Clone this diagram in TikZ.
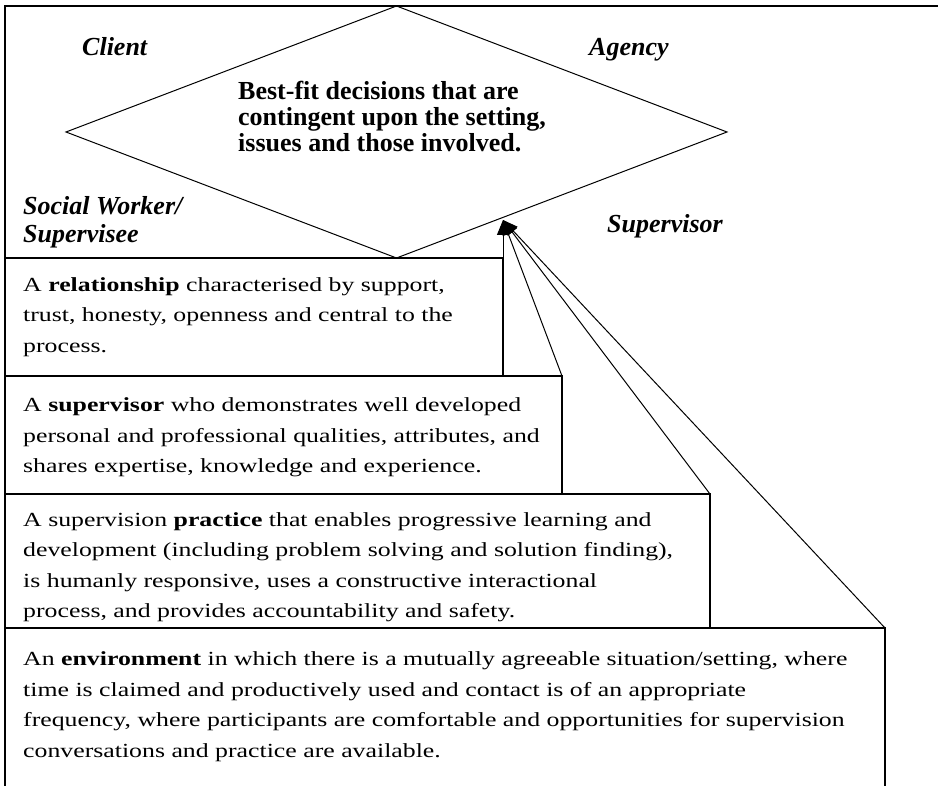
\documentclass[tikz,border=0pt]{standalone}
\usepackage{fontspec}
\setmainfont{Liberation Serif}
\newfontfamily\bodyfont{Liberation Serif}[FakeStretch=1.29]
\usetikzlibrary{shapes.geometric,arrows.meta,calc}

\begin{document}
\begin{tikzpicture}[x=1pt,y=-1pt,
  frame/.style={line width=1.6pt},
  stagebox/.style={draw, rectangle, line width=1.4pt, anchor=north west,
    inner sep=0pt, outer sep=0pt},
  bodytext/.style={anchor=north west, inner sep=0pt, align=left,
    font=\bodyfont\fontsize{20}{30.5}\selectfont},
  centretext/.style={anchor=north west, inner sep=0pt, align=left,
    font=\bfseries\fontsize{26}{26}\selectfont},
  party/.style={inner sep=0pt, align=left,
    font=\bfseries\itshape\fontsize{26}{28}\selectfont},
  link/.style={line width=1pt, -{Triangle[length=15pt,width=12pt]}},
]
% page and clipping area
\clip (0,0) rectangle (938,786);
\fill[white] (0,0) rectangle (938,786);

% outer frame of the upper region
\draw[frame] (938,6) -- (5,6) -- (5,258);

% decision diamond
\node[draw, diamond, line width=1pt, inner sep=0pt, outer sep=0pt,
      minimum width=661pt, minimum height=252pt] (dec) at (396.5,132) {};
\node[centretext] (dectext) at (238,80.8)
  {\strut Best-fit decisions that are\\
   contingent upon the setting,\\
   issues and those involved.};

% parties around the diamond
\node[party, anchor=base west] (client) at (82,56) {Client};
\node[party, anchor=base west] (agency) at (589,56) {Agency};
\node[party, anchor=north west] (worker) at (23,194.4)
  {\strut Social Worker/\\ Supervisee};
\node[party, anchor=base west] (supervisor) at (607,233) {Supervisor};

% the four stacked stages
\node[stagebox, minimum width=498pt, minimum height=118pt] (rel) at (5,258) {};
\node[stagebox, minimum width=557pt, minimum height=118pt] (sup) at (5,376) {};
\node[stagebox, minimum width=705pt, minimum height=134pt] (prac) at (5,494) {};
\node[stagebox, minimum width=880pt, minimum height=190pt] (env) at (5,628) {};

\node[bodytext] (reltext) at (23,269.5)
  {\strut A \textbf{relationship} characterised by support,\\
   trust, honesty, openness and central to the\\
   process.};
\node[bodytext] (suptext) at (23,390)
  {\strut A \textbf{supervisor} who demonstrates well developed\\
   personal and professional qualities, attributes, and\\
   shares expertise, knowledge and experience.};
\node[bodytext] (practext) at (23,504.5)
  {\strut A supervision \textbf{practice} that enables progressive learning and\\
   development (including problem solving and solution finding),\\
   is humanly responsive, uses a constructive interactional\\
   process, and provides accountability and safety.};
\node[bodytext] (envtext) at (23,644)
  {\strut An \textbf{environment} in which there is a mutually agreeable situation/setting, where\\
   time is claimed and productively used and contact is of an appropriate\\
   frequency, where participants are comfortable and opportunities for supervision\\
   conversations and practice are available.};

% connectors converging on the diamond
\coordinate (tip) at (503,220);
\draw[link] (rel.north east) -- (tip);
\draw[link] (sup.north east) -- (tip);
\draw[link] (prac.north east) -- (tip);
\draw[link] (env.north east) -- (tip);
\end{tikzpicture}
\end{document}
